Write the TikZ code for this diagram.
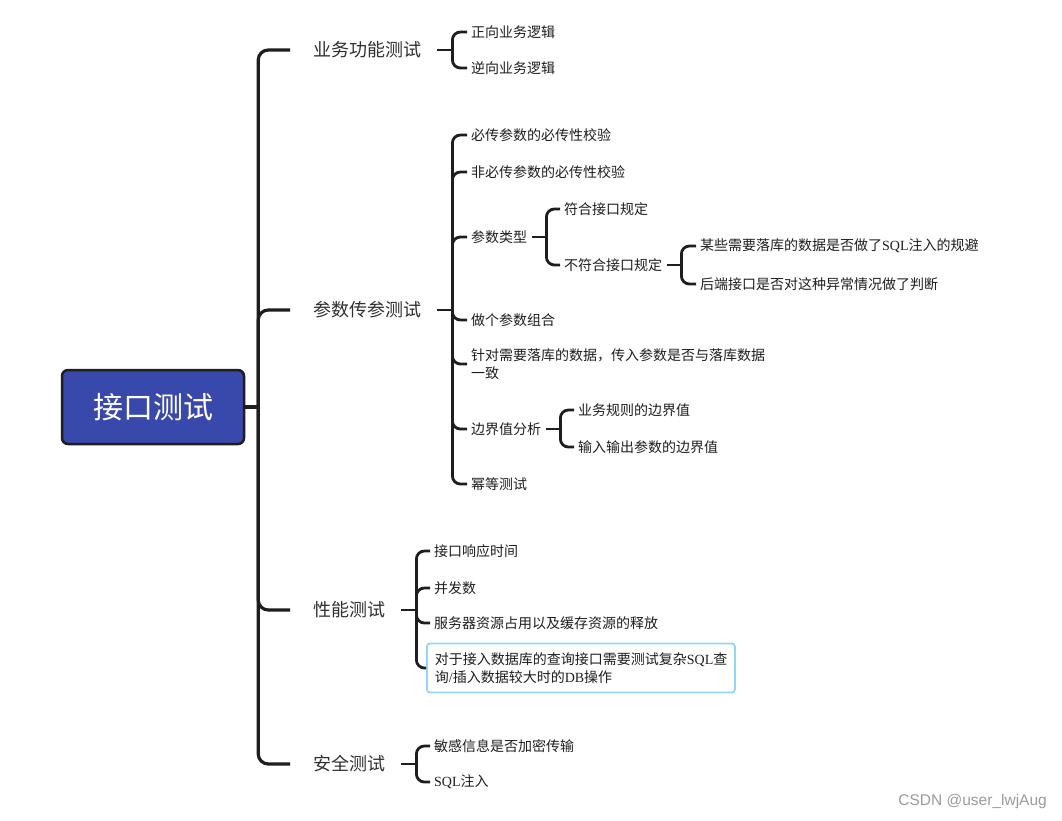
\documentclass[tikz,border=0pt]{standalone}
\usepackage{fontspec}
\setmainfont{Noto Sans CJK SC}
\newfontfamily\latw{Liberation Serif}
\newfontfamily\wmfont{Liberation Sans}
\newcommand{\ltn}[1]{{\latw #1}}
\definecolor{rootfill}{RGB}{57,73,171}
\definecolor{linec}{RGB}{30,30,30}
\definecolor{txt}{RGB}{30,30,30}
\definecolor{ltxt}{RGB}{48,48,48}
\definecolor{boxc}{RGB}{150,212,245}
\definecolor{wmc}{RGB}{155,155,155}
\begin{document}
\begin{tikzpicture}[x=1pt,y=-1pt,
  rootnode/.style={draw=linec, line width=2.5pt, fill=rootfill, rounded corners=6pt,
    minimum width=182pt, minimum height=74pt, text=white, font=\fontsize{30}{34}\selectfont},
  lvtwo/.style={anchor=west, inner sep=0pt, text=ltxt, font=\fontsize{18}{22}\selectfont},
  lvthree/.style={anchor=west, inner sep=0pt, text=txt, align=left, font=\fontsize{14}{18}\selectfont},
  trunk/.style={draw=linec, line width=3.2pt, rounded corners=10pt},
  conn/.style={draw=linec, line width=2.8pt, rounded corners=8pt},
  hl/.style={draw=boxc, line width=1.8pt, rounded corners=3pt, inner xsep=8pt, inner ysep=9pt,
    anchor=west, text=txt, align=left, text width=292pt, font=\fontsize{14}{18}\selectfont}]
\fill[white] (0,0) rectangle (1062,820);
\useasboundingbox (0,0) rectangle (1062,820);

% root
\node[rootnode] (root) at (153,407) {接口测试};

% level 2
\node[lvtwo] (b1) at (313,50) {业务功能测试};
\node[lvtwo] (b2) at (313,310) {参数传参测试};
\node[lvtwo] (b3) at (313,610) {性能测试};
\node[lvtwo] (b4) at (313,764) {安全测试};

% level 3
\node[lvthree] (c1a) at (471,32) {正向业务逻辑};
\node[lvthree] (c1b) at (471,68) {逆向业务逻辑};

\node[lvthree] (c2a) at (471,135) {必传参数的必传性校验};
\node[lvthree] (c2b) at (471,172) {非必传参数的必传性校验};
\node[lvthree] (c2c) at (471,237) {参数类型};
\node[lvthree] (c2d) at (471,320) {做个参数组合};
\node[lvthree] (c2e) at (471,364) {针对需要落库的数据，传入参数是否与落库数据\\一致};
\node[lvthree] (c2f) at (471,429) {边界值分析};
\node[lvthree] (c2g) at (471,484) {幂等测试};

\node[lvthree] (d1) at (564,209) {符合接口规定};
\node[lvthree] (d2) at (564,265) {不符合接口规定};
\node[lvthree] (e1) at (700,246) {某些需要落库的数据是否做了\ltn{SQL}注入的规避};
\node[lvthree] (e2) at (700,284) {后端接口是否对这种异常情况做了判断};

\node[lvthree] (f1) at (578,410) {业务规则的边界值};
\node[lvthree] (f2) at (578,447) {输入输出参数的边界值};

\node[lvthree] (g1) at (434,551) {接口响应时间};
\node[lvthree] (g2) at (434,588) {并发数};
\node[lvthree] (g3) at (434,623) {服务器资源占用以及缓存资源的释放};
\node[hl] (g4) at (426,668) {对于接入数据库的查询接口需要测试复杂\ltn{SQL}查\\询\ltn{/}插入数据较大时的\ltn{DB}操作};

\node[lvthree] (h1) at (434,746) {敏感信息是否加密传输};
\node[lvthree] (h2) at (434,782) {\ltn{SQL}注入};

% trunk
\draw[trunk, rounded corners=0pt] (root.east) -- ++(13,0);
\foreach \t in {b1,b2,b3,b4}
  \draw[trunk] ([xshift=13pt]root.east) |- ([xshift=-23pt]\t.west);

% level 2 -> 3
\draw[conn, rounded corners=0pt] ([xshift=16pt]b1.east) -- ++(15,0);
\foreach \t in {c1a,c1b}
  \draw[conn] ([xshift=31pt]b1.east) |- ([xshift=-4pt]\t.west);

\draw[conn, rounded corners=0pt] ([xshift=16pt]b2.east) -- ++(15,0);
\foreach \t in {c2a,c2b,c2c,c2d,c2e,c2f,c2g}
  \draw[conn] ([xshift=31pt]b2.east) |- ([xshift=-4pt]\t.west);

\draw[conn, rounded corners=0pt] ([xshift=16pt]b3.east) -- ++(15,0);
\foreach \t in {g1,g2,g3}
  \draw[conn] ([xshift=31pt]b3.east) |- ([xshift=-4pt]\t.west);
\draw[conn] ([xshift=31pt]b3.east) |- (g4.west);

\draw[conn, rounded corners=0pt] ([xshift=16pt]b4.east) -- ++(15,0);
\foreach \t in {h1,h2}
  \draw[conn] ([xshift=31pt]b4.east) |- ([xshift=-4pt]\t.west);

% level 3 -> 4
\draw[conn, rounded corners=0pt] ([xshift=5pt]c2c.east) -- ++(14,0);
\foreach \t in {d1,d2}
  \draw[conn] ([xshift=19pt]c2c.east) |- ([xshift=-4pt]\t.west);

\draw[conn, rounded corners=0pt] ([xshift=5pt]d2.east) -- ++(14,0);
\foreach \t in {e1,e2}
  \draw[conn] ([xshift=19pt]d2.east) |- ([xshift=-4pt]\t.west);

\draw[conn, rounded corners=0pt] ([xshift=5pt]c2f.east) -- ++(14,0);
\foreach \t in {f1,f2}
  \draw[conn] ([xshift=19pt]c2f.east) |- ([xshift=-4pt]\t.west);

% watermark
\node[anchor=east, inner sep=0pt, text=wmc, font=\wmfont\fontsize{15.5}{18}\selectfont] (wm) at (1047,801) {CSDN @user\_lwjAug};
\end{tikzpicture}
\end{document}
